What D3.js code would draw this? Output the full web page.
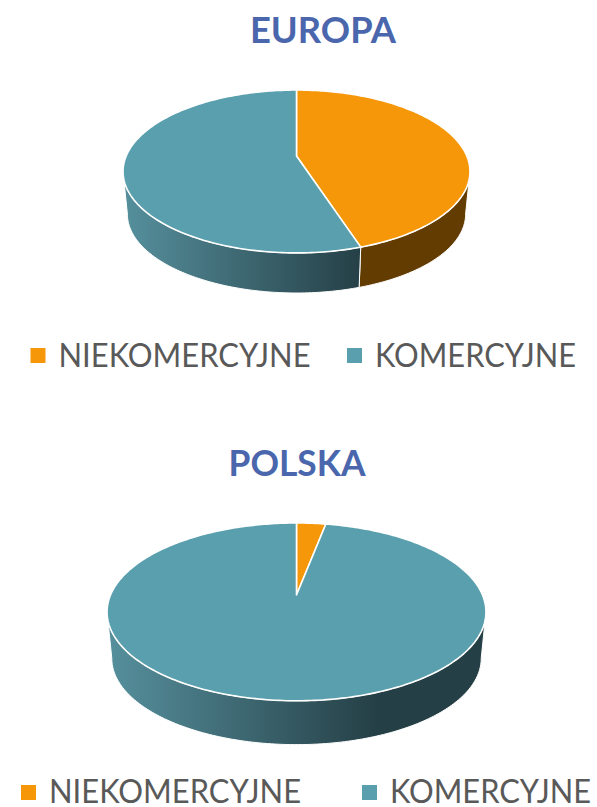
<!DOCTYPE html>
<html>
<head>
<meta charset="utf-8">
<script src="https://cdn.jsdelivr.net/npm/d3@7"></script>
<style>
    html, body { margin: 0; padding: 0; background: #fff; }
    svg { display: block; }
</style>
</head>
<body>
<div id="my_chart"></div>
<script>
// data, in percent
const categories = ["NIEKOMERCYJNE", "KOMERCYJNE"];
const chartTitles = ["EUROPA", "POLSKA"];
const europaValues = [45, 55];
const polskaValues = [3, 97];

const topColors = ["#f59708", "#5a9fad"];
const sideOrange = "#623c01";

const width = 597, height = 807;

// k is the perspective strength of the tilted disc
const k = 0.19;

const svg = d3.select("#my_chart")
    .append("svg")
    .attr("width", width)
    .attr("height", height);

const defs = svg.append("defs");

const titleFont = "Lato, Carlito, sans-serif";

function drawPie(cfg, i) {
    const g = svg.append("g");

    const pie = d3.pie().sort(null).value(d => d);
    const slices = pie(cfg.values);

    // scales for the unit disc, u to the right and v towards the viewer
    const topX = d3.scaleLinear().domain([-1, 1]).range([cfg.cx - cfg.R, cfg.cx + cfg.R]);
    const topY = d3.scaleLinear().domain([-1, 1]).range([cfg.cy - cfg.H, cfg.cy + cfg.H]);
    const botX = d3.scaleLinear().domain([-1, 1]).range([cfg.cx - cfg.R * 0.975, cfg.cx + cfg.R * 0.975]);
    const botY = d3.scaleLinear().domain([-1, 1]).range([cfg.cy + cfg.drop - cfg.H * 0.97, cfg.cy + cfg.drop + cfg.H * 0.97]);

    const project = (a, sx, sy) => {
        const u = Math.sin(a), v = -Math.cos(a);
        const s = 1 / (1 - k * v);
        return [sx(u * s), sy(v * s)];
    };
    const line = d3.line();
    const step = Math.PI / 180;
    const angles = (a0, a1) => {
        const n = Math.max(2, Math.ceil((a1 - a0) / step));
        return d3.range(n + 1).map(j => a0 + (a1 - a0) * j / n);
    };

    // the side wall is only seen on the front of the disc, between the widest points
    const frontStart = Math.PI / 2 + Math.asin(k);
    const frontEnd = 3 * Math.PI / 2 - Math.asin(k);

    const gradId = `side-${i}`;
    const grad = defs.append("linearGradient")
        .attr("id", gradId)
        .attr("gradientUnits", "userSpaceOnUse")
        .attr("x1", cfg.cx - cfg.R).attr("x2", cfg.gradEnd)
        .attr("y1", 0).attr("y2", 0);
    grad.append("stop").attr("offset", 0).attr("stop-color", "#558f9c");
    grad.append("stop").attr("offset", 1).attr("stop-color", "#253f46");

    slices.forEach((d, si) => {
        const a0 = Math.max(d.startAngle, frontStart);
        const a1 = Math.min(d.endAngle, frontEnd);
        if (a1 <= a0) return;
        const arc = angles(a0, a1);
        const pts = arc.map(a => project(a, topX, topY))
            .concat(arc.slice().reverse().map(a => project(a, botX, botY)));
        g.append("path")
            .attr("d", line(pts) + "Z")
            .attr("fill", si === 0 ? sideOrange : `url(#${gradId})`)
            .attr("stroke", "#fff")
            .attr("stroke-width", 1);
    });

    slices.forEach((d, si) => {
        const pts = [[topX(0), topY(0)]]
            .concat(angles(d.startAngle, d.endAngle).map(a => project(a, topX, topY)));
        g.append("path")
            .attr("d", line(pts) + "Z")
            .attr("fill", topColors[si])
            .attr("stroke", "#fff")
            .attr("stroke-width", 1.6)
            .attr("stroke-linejoin", "round");
    });

    // title
    svg.append("text")
        .attr("x", cfg.titleX)
        .attr("y", cfg.titleY)
        .attr("text-anchor", "middle")
        .attr("font-family", titleFont)
        .attr("font-weight", 700)
        .attr("font-size", 36)
        .attr("fill", "#4a66ac")
        .attr("textLength", cfg.titleW)
        .attr("lengthAdjust", "spacingAndGlyphs")
        .text(chartTitles[i]);

    // legend
    const legend = svg.append("g");
    categories.forEach((c, ci) => {
        legend.append("rect")
            .attr("x", cfg.legendX[ci])
            .attr("y", cfg.squareY)
            .attr("width", 15)
            .attr("height", 15)
            .attr("fill", topColors[ci]);
        legend.append("text")
            .attr("x", cfg.legendX[ci] + 28)
            .attr("y", cfg.legendY)
            .attr("font-family", titleFont)
            .attr("font-size", cfg.legendSize)
            .attr("fill", "#595959")
            .attr("textLength", cfg.legendW[ci])
            .attr("lengthAdjust", "spacingAndGlyphs")
            .text(c);
    });
}

drawPie({
    values: europaValues, cx: 296.5, cy: 156, R: 170.3, H: 78.5, drop: 43, gradEnd: 362,
    titleX: 323, titleY: 43, titleW: 146,
    legendX: [30.5, 347], legendY: 367, squareY: 348, legendSize: 33, legendW: [252, 201]
}, 0);

drawPie({
    values: polskaValues, cx: 296.5, cy: 595, R: 186, H: 85.7, drop: 47, gradEnd: 378,
    titleX: 297, titleY: 476, titleW: 137,
    legendX: [21, 362], legendY: 803, squareY: 785, legendSize: 33, legendW: [252, 201]
}, 1);
</script>
</body>
</html>
